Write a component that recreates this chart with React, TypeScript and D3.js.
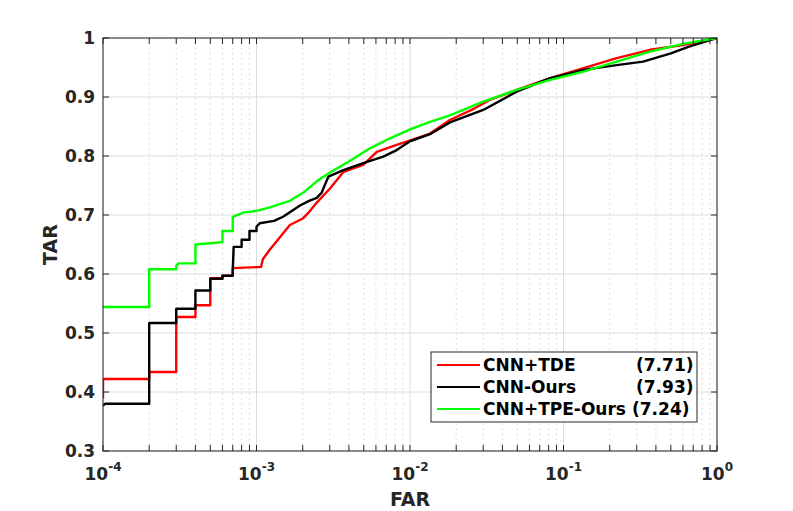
import React from "react";
import * as d3 from "d3";

// ROC curves (FAR on log axis, TAR linear)
const tdeFar = [1e-4, 1e-4, 2e-4, 2e-4, 3e-4, 3e-4, 4e-4, 4e-4, 5e-4, 5e-4, 6e-4, 6e-4, 7e-4, 7e-4, 1.07e-3, 1.1e-3, 1.22e-3, 1.35e-3, 1.46e-3, 1.65e-3, 2e-3, 2.2e-3, 2.47e-3, 3.01e-3, 3.4e-3, 3.68e-3, 4.96e-3, 6.07e-3, 8.19e-3, 1.1e-2, 1.35e-2, 1.82e-2, 2.6e-2, 3.3e-2, 4.95e-2, 8.2e-2, 0.135, 0.222, 0.366, 0.6, 1];
const tdeTar = [0.389, 0.422, 0.422, 0.434, 0.434, 0.527, 0.527, 0.547, 0.547, 0.593, 0.593, 0.597, 0.597, 0.61, 0.612, 0.625, 0.641, 0.655, 0.666, 0.683, 0.694, 0.705, 0.721, 0.745, 0.762, 0.773, 0.785, 0.807, 0.819, 0.83, 0.838, 0.861, 0.88, 0.895, 0.912, 0.932, 0.949, 0.966, 0.98, 0.988, 1];

const oursFar = [1e-4, 1.03e-4, 2e-4, 2e-4, 3e-4, 3e-4, 4e-4, 4e-4, 5e-4, 5e-4, 6e-4, 6e-4, 7e-4, 7e-4, 7.1e-4, 8e-4, 8e-4, 9e-4, 9e-4, 1e-3, 1e-3, 1.05e-3, 1.3e-3, 1.49e-3, 1.92e-3, 2.2e-3, 2.47e-3, 2.66e-3, 2.8e-3, 2.94e-3, 3.68e-3, 4.96e-3, 6.7e-3, 8.19e-3, 1e-2, 1.35e-2, 1.82e-2, 3e-2, 4.95e-2, 8.2e-2, 0.135, 0.222, 0.33, 0.5, 0.65, 1];
const oursTar = [0.377, 0.38, 0.38, 0.517, 0.517, 0.541, 0.541, 0.572, 0.572, 0.592, 0.592, 0.597, 0.597, 0.605, 0.646, 0.646, 0.658, 0.658, 0.673, 0.673, 0.68, 0.686, 0.69, 0.697, 0.716, 0.724, 0.729, 0.738, 0.752, 0.765, 0.776, 0.788, 0.799, 0.81, 0.825, 0.837, 0.857, 0.878, 0.909, 0.932, 0.946, 0.954, 0.96, 0.974, 0.985, 1];

const tpeFar = [1e-4, 2e-4, 2e-4, 3e-4, 3e-4, 3.1e-4, 4e-4, 4e-4, 5e-4, 6e-4, 6e-4, 7e-4, 7e-4, 8.2e-4, 1e-3, 1.22e-3, 1.65e-3, 2.02e-3, 2.47e-3, 3.01e-3, 4.07e-3, 5.48e-3, 7.41e-3, 1e-2, 1.35e-2, 1.82e-2, 3e-2, 4.95e-2, 8.2e-2, 0.135, 0.222, 0.366, 0.6, 1];
const tpeTar = [0.544, 0.544, 0.608, 0.608, 0.614, 0.618, 0.618, 0.65, 0.652, 0.654, 0.673, 0.673, 0.697, 0.704, 0.707, 0.713, 0.724, 0.738, 0.757, 0.772, 0.792, 0.813, 0.83, 0.845, 0.858, 0.869, 0.892, 0.912, 0.929, 0.943, 0.96, 0.977, 0.99, 1];

const seriesNames = ["CNN+TDE", "CNN-Ours", "CNN+TPE-Ours"];
const seriesScores = ["(7.71)", "(7.93)", "(7.24)"];
const seriesColors = ["#ff0000", "#000000", "#00ff00"];

const yTicks = [0.3, 0.4, 0.5, 0.6, 0.7, 0.8, 0.9, 1];
const yTickLabels = ["0.3", "0.4", "0.5", "0.6", "0.7", "0.8", "0.9", "1"];
const xTickExps = [-4, -3, -2, -1, 0];

const W = 793;
const H = 511;
const margin = { top: 38, right: 76, bottom: 60, left: 103 };
const axisColor = "#262626";
const font = "'DejaVu Sans', sans-serif";

export default function App() {
  const x = d3.scaleLog().domain([1e-4, 1]).range([margin.left, W - margin.right]);
  const y = d3.scaleLinear().domain([0.3, 1]).range([H - margin.bottom, margin.top]);
  const [x0, x1] = x.range();
  const [y0, y1] = y.range();

  // minor ticks 2..9 in each decade
  const minor: number[] = [];
  xTickExps.slice(0, -1).forEach((e) => {
    for (let k = 2; k <= 9; k++) minor.push(k * Math.pow(10, e));
  });

  const series = [
    { far: tdeFar, tar: tdeTar },
    { far: oursFar, tar: oursTar },
    { far: tpeFar, tar: tpeTar },
  ];

  const line = d3
    .line<[number, number]>()
    .x((d) => x(d[0]))
    .y((d) => y(d[1]));

  const tickLen = 6;
  const legend = { x: 431, y: 352, w: 266, h: 70 };

  return (
    <svg width={W} height={H} style={{ position: "absolute", left: 0, top: 0, background: "#fff" }} fontFamily={font}>
      <defs>
        <clipPath id="plot">
          <rect x={x0} y={y1} width={x1 - x0} height={y0 - y1} />
        </clipPath>
      </defs>

      {/* grid */}
      {minor.map((v) => (
        <line key={"mg" + v} x1={x(v)} x2={x(v)} y1={y1} y2={y0} stroke="#d4d4d4" strokeDasharray="2,3" strokeWidth={0.8} />
      ))}
      {xTickExps.map((e) => (
        <line key={"gx" + e} x1={x(Math.pow(10, e))} x2={x(Math.pow(10, e))} y1={y1} y2={y0} stroke="#dcdcdc" />
      ))}
      {yTicks.map((v) => (
        <line key={"gy" + v} x1={x0} x2={x1} y1={y(v)} y2={y(v)} stroke="#dcdcdc" />
      ))}

      {/* curves */}
      <g clipPath="url(#plot)">
        {series.map((s, i) => (
          <path
            key={i}
            d={line(s.far.map((f, j) => [f, s.tar[j]] as [number, number])) || ""}
            fill="none"
            stroke={seriesColors[i]}
            strokeWidth={2.4}
            strokeLinejoin="round"
          />
        ))}
      </g>

      {/* box and ticks */}
      <rect x={x0} y={y1} width={x1 - x0} height={y0 - y1} fill="none" stroke={axisColor} strokeWidth={1} />
      {[...minor, ...xTickExps.map((e) => Math.pow(10, e))].map((v, i) => (
        <g key={"xt" + i}>
          <line x1={x(v)} x2={x(v)} y1={y0} y2={y0 - tickLen} stroke={axisColor} />
          <line x1={x(v)} x2={x(v)} y1={y1} y2={y1 + tickLen} stroke={axisColor} />
        </g>
      ))}
      {yTicks.map((v) => (
        <g key={"yt" + v}>
          <line x1={x0} x2={x0 + tickLen} y1={y(v)} y2={y(v)} stroke={axisColor} />
          <line x1={x1} x2={x1 - tickLen} y1={y(v)} y2={y(v)} stroke={axisColor} />
        </g>
      ))}

      {/* tick labels */}
      {yTicks.map((v, i) => (
        <text key={"yl" + v} x={x0 - 8} y={y(v) + 6} textAnchor="end" fontSize={17} fontWeight="bold" fill={axisColor}>
          {yTickLabels[i]}
        </text>
      ))}
      {xTickExps.map((e) => (
        <text key={"xl" + e} x={x(Math.pow(10, e))} y={y0 + 29} textAnchor="middle" fontWeight="bold" fill={axisColor}>
          <tspan fontSize={17}>10</tspan>
          <tspan fontSize={12} dy={-9}>{String(e)}</tspan>
        </text>
      ))}

      {/* axis labels */}
      <text x={(x0 + x1) / 2} y={506} textAnchor="middle" fontSize={19} fontWeight="bold" fill={axisColor}>
        FAR
      </text>
      <text transform={`translate(57,${(y0 + y1) / 2}) rotate(-90)`} textAnchor="middle" fontSize={19} fontWeight="bold" fill={axisColor}>
        TAR
      </text>

      {/* legend */}
      <rect x={legend.x} y={legend.y} width={legend.w} height={legend.h} fill="#fff" stroke={axisColor} strokeWidth={1} />
      {seriesNames.map((name, i) => {
        const cy = legend.y + 13 + i * 22;
        return (
          <g key={name}>
            <line x1={legend.x + 6} x2={legend.x + 49} y1={cy} y2={cy} stroke={seriesColors[i]} strokeWidth={2} />
            <text x={legend.x + 52} y={cy + 6} fontSize={17} fontWeight="bold" fill="#000">
              {name}
            </text>
            <text x={i === 2 ? 632 : 636} y={cy + 6} fontSize={17} fontWeight="bold" fill="#000">
              {seriesScores[i]}
            </text>
          </g>
        );
      })}
    </svg>
  );
}
